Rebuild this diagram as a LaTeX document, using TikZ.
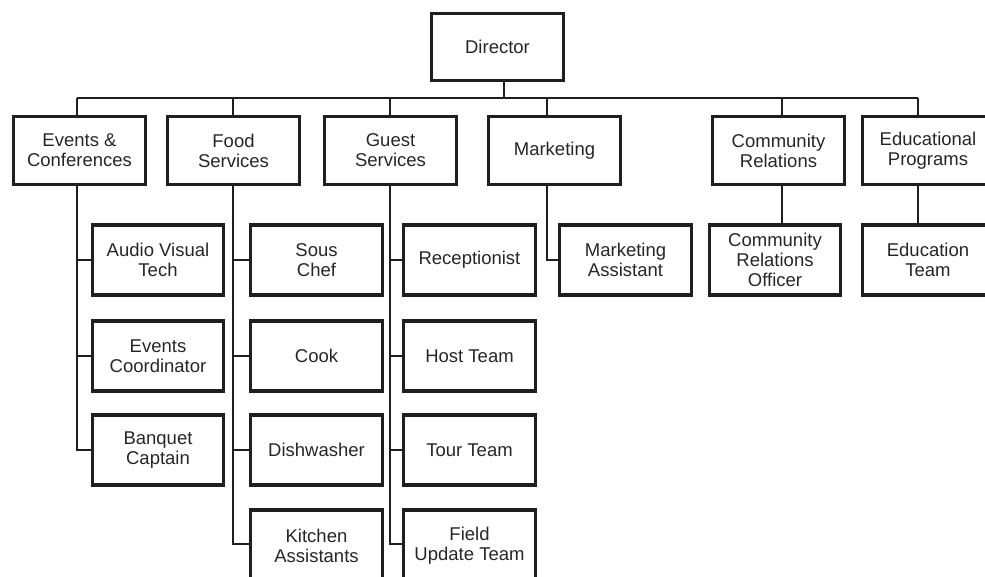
\documentclass[tikz,border=0pt]{standalone}
\usepackage{fontspec}
\setmainfont{Liberation Sans}
\begin{document}
\begin{tikzpicture}[x=1pt,y=-1pt,
  box/.style={draw=black!88, line width=3.4pt, rectangle, minimum width=131.5pt, minimum height=68pt,
    inner sep=0pt, align=center, font=\fontsize{18.5}{20}\selectfont, text=black!85},
  conn/.style={draw=black!88, line width=2pt}]
\useasboundingbox (0,0) rectangle (985,576);
\clip (0,0) rectangle (985,576);
% top
\node[box, minimum height=66.5pt] (dir) at (497.5,47) {Director};
\node[box] (ec) at (79.5,150.5) {Events \&\\Conferences};
\node[box] (fs) at (233.5,150.5) {Food\\Services};
\node[box] (gs) at (390.5,150.5) {Guest\\Services};
\node[box] (mk) at (554.5,150.5) {Marketing};
\node[box] (cr) at (778.5,150.5) {Community\\Relations};
\node[box] (ep) at (928,150.5) {Educational\\Programs};
% children
\node[box, minimum height=70pt] (av) at (158,260) {Audio Visual\\Tech};
\node[box, minimum height=70pt] (eco) at (158,356) {Events\\Coordinator};
\node[box, minimum height=70pt] (bq) at (158,450) {Banquet\\Captain};
\node[box, minimum height=70pt] (sc) at (316.5,260) {Sous\\Chef};
\node[box, minimum height=70pt] (ck) at (316.5,356) {Cook};
\node[box, minimum height=70pt] (dw) at (316.5,450) {Dishwasher};
\node[box, minimum height=72pt] (ka) at (316.5,546) {Kitchen\\Assistants};
\node[box, minimum height=70pt] (rc) at (469.5,260) {Receptionist};
\node[box, minimum height=70pt] (ht) at (469.5,356) {Host Team};
\node[box, minimum height=70pt] (tt) at (469.5,450) {Tour Team};
\node[box, minimum height=72pt] (fu) at (469.5,546) {Field\\Update Team};
\node[box, minimum height=70pt] (ma) at (625.5,260) {Marketing\\Assistant};
\node[box, minimum height=70pt] (cro) at (775,260) {Community\\Relations\\Officer};
\node[box, minimum height=70pt] (et) at (928,260) {Education\\Team};
% bus coordinates
\coordinate (dj) at (504,98);
\coordinate (cEC) at (77,98);
\coordinate (cFS) at (233,98);
\coordinate (cGS) at (390,98);
\coordinate (cMK) at (546.5,98);
\coordinate (cCR) at (781.5,98);
\coordinate (cEP) at (918,98);
\coordinate (kb) at (0,544);
% connectors
\draw[conn] (dj |- dir.south) -- (dj);
\draw[conn] (cEC) -- (cEP);
\foreach \c/\n in {cEC/ec, cFS/fs, cGS/gs, cMK/mk, cCR/cr, cEP/ep}
  \draw[conn] (\c) -- (\c |- \n.north);
% events
\draw[conn] (cEC |- ec.south) -- (cEC |- bq.west) -- (bq.west);
\draw[conn] (cEC |- av.west) -- (av.west);
\draw[conn] (cEC |- eco.west) -- (eco.west);
% food
\draw[conn] (cFS |- fs.south) -- (cFS |- kb) -- (ka.west |- kb);
\draw[conn] (cFS |- sc.west) -- (sc.west);
\draw[conn] (cFS |- ck.west) -- (ck.west);
\draw[conn] (cFS |- dw.west) -- (dw.west);
% guest
\draw[conn] (cGS |- gs.south) -- (cGS |- kb) -- (fu.west |- kb);
\draw[conn] (cGS |- rc.west) -- (rc.west);
\draw[conn] (cGS |- ht.west) -- (ht.west);
\draw[conn] (cGS |- tt.west) -- (tt.west);
% marketing
\draw[conn] (cMK |- mk.south) -- (cMK |- ma.west) -- (ma.west);
% community, education
\draw[conn] (cCR |- cr.south) -- (cCR |- cro.north);
\draw[conn] (cEP |- ep.south) -- (cEP |- et.north);
\end{tikzpicture}
\end{document}
